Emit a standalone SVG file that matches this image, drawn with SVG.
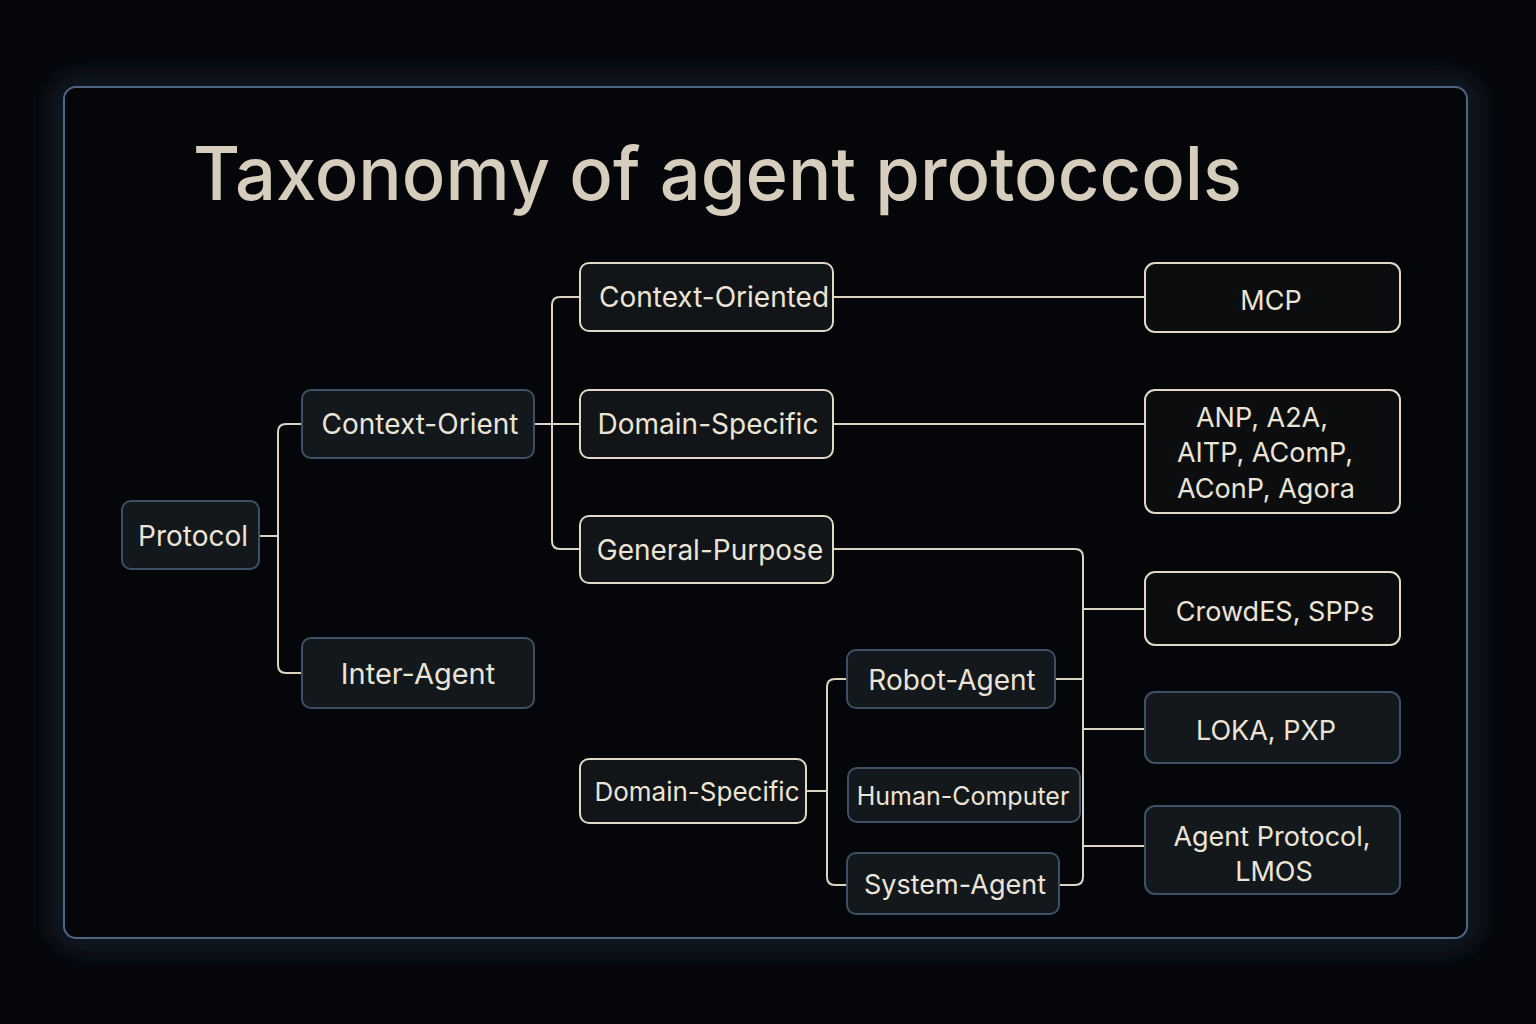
<svg xmlns="http://www.w3.org/2000/svg" width="1536" height="1024" viewBox="0 0 1536 1024">
<defs>
<filter id="glow" x="-10%" y="-10%" width="120%" height="120%"><feGaussianBlur stdDeviation="14"/></filter>
<style>
.t{font-family:"Inter","Liberation Sans",sans-serif;fill:#ece4d6;text-anchor:middle;dominant-baseline:central;font-size:28px}
.r{font-size:27px}
.nb{fill:#12181c;stroke:#3d5068;stroke-width:2}
.nw{fill:#111518;stroke:#e2d8c6;stroke-width:2}
.nd{fill:#0b0d0f;stroke:#e2d8c6;stroke-width:2}
.c{fill:none;stroke:#ddd3c1;stroke-width:2}
</style>
</defs>
<rect width="1536" height="1024" fill="#05070a"/>
<rect x="64" y="87" width="1403" height="851" rx="12" fill="none" stroke="#1c2838" stroke-width="16" filter="url(#glow)"/>
<rect x="64" y="87" width="1403" height="851" rx="12" fill="#04060a" stroke="#4d6686" stroke-width="2"/>
<text x="193" y="200" font-family="Inter,'Liberation Sans',sans-serif" font-size="74" font-weight="500" fill="#d6cdbd" textLength="1049" lengthAdjust="spacingAndGlyphs">Taxonomy of agent protoccols</text>
<g id="connectors">
<path class="c" d="M259 536H278"/>
<path class="c" d="M302 424H286Q278 424 278 432V665Q278 673 286 673H302"/>
<path class="c" d="M534 424H580"/>
<path class="c" d="M580 297H560Q552 297 552 305V541Q552 549 560 549H580"/>
<path class="c" d="M833 297H1145"/>
<path class="c" d="M833 424H1145"/>
<path class="c" d="M833 549H1075Q1083 549 1083 557V877Q1083 885 1075 885H1059"/>
<path class="c" d="M1083 609H1145M1083 729H1145M1083 846H1145M1055 679H1083"/>
<path class="c" d="M806 791H827"/>
<path class="c" d="M847 679H835Q827 679 827 687V877Q827 885 835 885H847"/>
</g>
<g id="n-protocol"><rect class="nb" x="122" y="501" width="137" height="68" rx="9"/><text class="t" x="193" y="536">Protocol</text></g>
<g id="n-context-orient"><rect class="nb" x="302" y="390" width="232" height="68" rx="9"/><text class="t" x="420" y="424">Context-Orient</text></g>
<g id="n-inter-agent"><rect class="nb" x="302" y="638" width="232" height="70" rx="9"/><text class="t" x="418" y="673" style="font-size:29px">Inter-Agent</text></g>
<g id="n-context-oriented"><rect class="nw" x="580" y="263" width="253" height="68" rx="9"/><text class="t" x="714" y="297">Context-Oriented</text></g>
<g id="n-domain-specific-1"><rect class="nw" x="580" y="390" width="253" height="68" rx="9"/><text class="t" x="708" y="424">Domain-Specific</text></g>
<g id="n-general-purpose"><rect class="nw" x="580" y="516" width="253" height="67" rx="9"/><text class="t" x="710" y="550">General-Purpose</text></g>
<g id="n-domain-specific-2"><rect class="nw" x="580" y="759" width="226" height="64" rx="9"/><text class="t" x="697" y="791" style="font-size:26px">Domain-Specific</text></g>
<g id="n-robot-agent"><rect class="nb" x="847" y="650" width="208" height="58" rx="9"/><text class="t" x="952" y="680">Robot-Agent</text></g>
<g id="n-human-computer"><rect class="nb" x="848" y="768" width="232" height="54" rx="9"/><text class="t" x="963" y="796" style="font-size:25px">Human-Computer</text></g>
<g id="n-system-agent"><rect class="nb" x="847" y="853" width="212" height="61" rx="9"/><text class="t r" x="955" y="884">System-Agent</text></g>
<g id="n-mcp"><rect class="nd" x="1145" y="263" width="255" height="69" rx="10"/><text class="t r" x="1271" y="300">MCP</text></g>
<g id="n-anp"><rect class="nd" x="1145" y="390" width="255" height="123" rx="10"/><text class="t r" x="1262" y="417">ANP, A2A,</text><text class="t r" x="1265" y="452">AITP, AComP,</text><text class="t r" x="1266" y="488">AConP, Agora</text></g>
<g id="n-crowdes"><rect class="nd" x="1145" y="572" width="255" height="73" rx="10"/><text class="t r" x="1275" y="611">CrowdES, SPPs</text></g>
<g id="n-loka"><rect class="nb" x="1145" y="692" width="255" height="71" rx="10"/><text class="t r" x="1266" y="730">LOKA, PXP</text></g>
<g id="n-agent-protocol"><rect class="nb" x="1145" y="806" width="255" height="88" rx="10"/><text class="t r" x="1272" y="836">Agent Protocol,</text><text class="t r" x="1274" y="871">LMOS</text></g>
</svg>
